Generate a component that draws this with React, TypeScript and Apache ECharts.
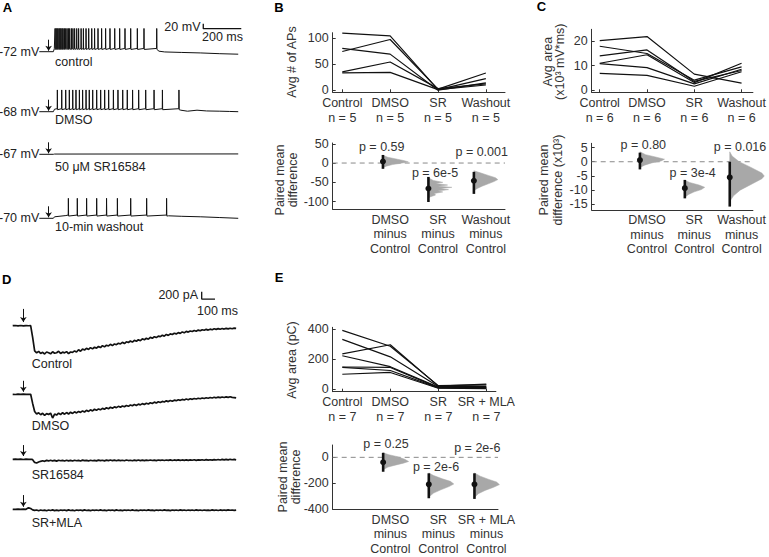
import React, { useEffect, useRef } from "react";
import * as echarts from "echarts";

const FONT = '"Liberation Sans", Arial, Helvetica, sans-serif';
const AXIS = "#333";

// ---------------- Panel A (time ms, membrane potential mV)
const aRestLabels = ["-72 mV", "-68 mV", "-67 mV", "-70 mV"];
const aCondLabels = ["control", "DMSO", "50 μM SR16584", "10-min washout"];
const aControlSpikesMs = [83, 88, 93, 98, 104, 109, 114, 120, 125, 132, 139, 146, 153, 160, 169, 177, 186, 197, 207, 220, 232, 246, 260, 276, 291, 309, 328, 349, 372, 397, 423, 451, 481, 516, 551, 618];
const aDmsoSpikesMs = [95, 118, 139, 158, 176, 193, 211, 228, 246, 263, 281, 302, 323, 344, 365, 390, 414, 439, 463, 491, 523, 560, 604, 648, 735];
const aWashoutSpikesMs = [153, 200, 249, 302, 354, 411, 481, 565, 670];
// [plateau, peak, after-hyperpolarisation] in mV
const aControlLevels = [-59, 21, -63];
const aDmsoLevels = [-56, 19, -60];
const aWashoutLevels = [-57, 10, -61];
const aControlPre = [[0, -72], [74, -72], [79, -60]];
const aControlTail = [[630, -70], [660, -73], [750, -75], [850, -77], [950, -80], [1047, -82]];
const aDmsoPre = [[0, -68], [74, -68], [80, -58]];
const aDmsoTail = [[745, -62], [780, -66], [830, -62], [880, -65], [950, -66], [1000, -67], [1047, -68]];
const aSrTrace = [[0, -67], [74, -67], [80, -66], [1047, -65.5]];
const aWashoutPre = [[0, -70], [74, -70], [80, -64], [140, -59]];
const aWashoutTail = [[680, -60], [750, -62], [850, -64], [950, -67], [1047, -70]];
const aRest = [-72, -68, -67, -70];
const aScaleBar = [[863, 40], [863, 20], [1063, 20]]; // 20 mV, 200 ms

// ---------------- Panel D (time ms, current pA)
const dLabels = ["Control", "DMSO", "SR16584", "SR+MLA"];
const dControl = [[0,0],[20,6],[40,-4],[60,5],[80,-6],[100,3],[120,-2],[135,0],[150,-320],[165,-690],[180,-745],[195,-705],[210,-760],[225,-730],[240,-775],[255,-720],[270,-740],[285,-770],[300,-715],[315,-755],[330,-740],[345,-700],[360,-760],[375,-725],[390,-745],[405,-710],[420,-765],[435,-720],[450,-730],[465,-690],[480,-720],[495,-660],[510,-700],[525,-640],[540,-665],[555,-620],[570,-650],[585,-600],[600,-635],[615,-590],[630,-615],[645,-570],[660,-600],[675,-545],[690,-580],[705,-535],[720,-555],[735,-510],[750,-545],[765,-500],[780,-520],[795,-480],[810,-500],[825,-455],[840,-490],[855,-440],[870,-460],[885,-420],[900,-450],[915,-400],[930,-425],[945,-385],[960,-410],[975,-360],[990,-385],[1005,-345],[1020,-370],[1035,-320],[1050,-345],[1065,-300],[1080,-325],[1095,-285],[1110,-300],[1125,-260],[1140,-285],[1155,-240],[1170,-265],[1185,-225],[1200,-240],[1215,-205],[1230,-225],[1245,-190],[1260,-210],[1275,-170],[1290,-195],[1305,-155],[1320,-175],[1335,-145],[1350,-160],[1365,-130],[1380,-150],[1395,-120],[1410,-140],[1425,-110],[1440,-125],[1455,-100],[1470,-120],[1485,-95],[1500,-110],[1515,-85],[1530,-100],[1545,-80],[1560,-98],[1575,-78],[1590,-92],[1605,-72],[1620,-88],[1635,-70],[1650,-85],[1665,-68],[1680,-75]];
const dDmso = [[0,0],[20,-5],[40,4],[60,-3],[80,5],[100,-4],[120,2],[135,0],[150,-250],[165,-470],[180,-540],[195,-505],[210,-560],[225,-520],[240,-575],[255,-530],[270,-555],[285,-515],[300,-650],[315,-540],[330,-570],[345,-515],[360,-555],[375,-505],[390,-545],[405,-500],[420,-540],[435,-490],[450,-525],[465,-480],[480,-510],[495,-470],[510,-495],[525,-455],[540,-485],[555,-440],[570,-470],[585,-425],[600,-455],[615,-410],[630,-440],[645,-400],[660,-425],[675,-385],[690,-410],[705,-370],[720,-395],[735,-355],[750,-380],[765,-345],[780,-365],[795,-330],[810,-355],[825,-320],[840,-340],[855,-305],[870,-330],[885,-295],[900,-315],[915,-280],[930,-305],[945,-270],[960,-290],[975,-255],[990,-280],[1005,-245],[1020,-265],[1035,-230],[1050,-250],[1065,-215],[1080,-240],[1095,-205],[1110,-225],[1125,-195],[1140,-210],[1155,-180],[1170,-200],[1185,-170],[1200,-190],[1215,-160],[1230,-175],[1245,-150],[1260,-165],[1275,-140],[1290,-155],[1305,-130],[1320,-148],[1335,-122],[1350,-138],[1365,-115],[1380,-130],[1395,-108],[1410,-122],[1425,-100],[1440,-115],[1455,-95],[1470,-108],[1485,-88],[1500,-102],[1515,-82],[1530,-96],[1545,-78],[1560,-92],[1575,-74],[1590,-88],[1605,-70],[1620,-84],[1635,-68],[1650,-85],[1665,-90],[1680,-100]];
const dSr = [[0,0],[20,5],[40,-4],[60,4],[80,-5],[100,3],[120,-3],[140,2],[150,-10],[165,-85],[180,-100],[195,-75],[210,-55],[225,-40],[240,-55],[255,-30],[270,-45],[285,-25],[300,-45],[315,-30],[330,-50],[345,-25],[360,-40],[375,-28],[390,-45],[405,-25],[420,-42],[435,-30],[450,-48],[465,-25],[480,-40],[495,-28],[510,-45],[525,-22],[540,-38],[555,-30],[570,-45],[585,-25],[600,-40],[615,-28],[630,-44],[645,-22],[660,-38],[675,-26],[690,-42],[705,-24],[720,-36],[735,-20],[750,-38],[765,-24],[780,-40],[795,-22],[810,-35],[825,-25],[840,-40],[855,-20],[870,-34],[885,-26],[900,-40],[915,-22],[930,-35],[945,-20],[960,-36],[975,-24],[990,-38],[1005,-22],[1020,-34],[1035,-18],[1050,-32],[1065,-22],[1080,-36],[1095,-20],[1110,-30],[1125,-18],[1140,-34],[1155,-20],[1170,-30],[1185,-16],[1200,-32],[1215,-18],[1230,-28],[1245,-14],[1260,-30],[1275,-18],[1290,-28],[1305,-15],[1320,-30],[1335,-16],[1350,-26],[1365,-12],[1380,-28],[1395,-14],[1410,-24],[1425,-12],[1440,-26],[1455,-10],[1470,-22],[1485,-12],[1500,-24],[1515,-8],[1530,-20],[1545,-6],[1560,-18],[1575,-4],[1590,-16],[1605,-2],[1620,-14],[1635,0],[1650,-12],[1665,-4],[1680,-14]];
const dSrMla = [[0,0],[20,-4],[40,5],[60,-3],[80,4],[100,0],[110,25],[120,40],[135,20],[150,-15],[165,-30],[180,-20],[195,-38],[210,-18],[225,-34],[240,-22],[255,-40],[270,-20],[285,-32],[300,-16],[315,-36],[330,-22],[345,-38],[360,-18],[375,-30],[390,-20],[405,-36],[420,-16],[435,-32],[450,-24],[465,-40],[480,-18],[495,-30],[510,-20],[525,-36],[540,-16],[555,-32],[570,-22],[585,-38],[600,-18],[615,-30],[630,-20],[645,-34],[660,-16],[675,-32],[690,-24],[705,-38],[720,-18],[735,-30],[750,-20],[765,-36],[780,-16],[795,-32],[810,-22],[825,-36],[840,-18],[855,-30],[870,-20],[885,-34],[900,-16],[915,-32],[930,-22],[945,-38],[960,-18],[975,-30],[990,-20],[1005,-34],[1020,-16],[1035,-30],[1050,-22],[1065,-36],[1080,-18],[1095,-30],[1110,-20],[1125,-34],[1140,-16],[1155,-30],[1170,-22],[1185,-36],[1200,-18],[1215,-30],[1230,-20],[1245,-34],[1260,-16],[1275,-28],[1290,-20],[1305,-34],[1320,-18],[1335,-30],[1350,-20],[1365,-32],[1380,-16],[1395,-28],[1410,-20],[1425,-34],[1440,-18],[1455,-30],[1470,-22],[1485,-34],[1500,-16],[1515,-28],[1530,-20],[1545,-32],[1560,-18],[1575,-28],[1590,-20],[1605,-30],[1620,-16],[1635,-26],[1650,-20],[1665,-30],[1680,-24]];
const dScaleBar = [[1421, 930], [1421, 730], [1521, 730]]; // 200 pA, 100 ms

// ---------------- Panel B
const bCats = ["Control", "DMSO", "SR", "Washout"];
const bN = ["n = 5", "n = 5", "n = 5", "n = 5"];
const bSubjects = [
  [109, 104, 1, 22],
  [74, 97, 2, 33],
  [80, 69, 0, 14],
  [35, 54, 3, 12],
  [33, 34, 1, 10],
];
const bDiffCats = ["DMSO", "SR", "Washout"];
const bDiffMean = [4, -66, -46];
const bDiffLow = [-15, -101, -80];
const bDiffHigh = [21, -36, -23];
const bP = ["p = 0.59", "p = 6e-5", "p = 0.001"];
const bDist = [
  [[20, 0], [15, 0.1], [10, 0.3], [6, 0.45], [3, 0.53], [0, 0.4], [-4, 0.2], [-8, 0.07], [-12, 0]],
  [[-38, 0], [-45, 0.1], [-50, 0.3], [-53, 0.15], [-57, 0.4], [-60, 0.2], [-63, 0.49], [-66, 0.25], [-69, 0.42], [-72, 0.2], [-75, 0.3], [-79, 0.12], [-83, 0.15], [-88, 0.03], [-92, 0]],
  [[-20, 0], [-26, 0.15], [-32, 0.3], [-38, 0.45], [-43, 0.5], [-48, 0.42], [-54, 0.3], [-60, 0.17], [-66, 0.07], [-72, 0]],
];

// ---------------- Panel C (x10^3 mV*ms)
const cN = ["n = 6", "n = 6", "n = 6", "n = 6"];
const cSubjects = [
  [20.3, 22, 6.5, 2.8],
  [18, 15, 4, 9.5],
  [14, 16.5, 3.5, 8],
  [11, 14.5, 3, 11],
  [10.8, 9.2, 2.5, 8.5],
  [6.8, 6, 1.5, 7.5],
];
const cDiffMean = [0.6, -9.3, -5.5];
const cDiffLow = [-2.7, -12.9, -15.8];
const cDiffHigh = [3.2, -6.4, 0];
const cP = ["p = 0.80", "p = 3e-4", "p = 0.016"];
const cDist = [
  [[3.5, 0], [2.5, 0.12], [1.6, 0.35], [0.9, 0.52], [0.3, 0.45], [-0.4, 0.25], [-1.2, 0.1], [-2, 0]],
  [[-6.5, 0], [-7.3, 0.1], [-8.2, 0.3], [-9, 0.42], [-9.8, 0.35], [-10.6, 0.2], [-11.5, 0.08], [-12.5, 0]],
  [[3.5, 0], [2, 0.05], [0, 0.2], [-2, 0.45], [-4, 0.68], [-5, 0.73], [-6, 0.68], [-8, 0.45], [-10, 0.22], [-12, 0.08], [-14, 0]],
];

// ---------------- Panel E (pC)
const eCats = ["Control", "DMSO", "SR", "SR + MLA"];
const eN = ["n = 7", "n = 7", "n = 7", "n = 7"];
const eSubjects = [
  [390, 285, 25, 30],
  [330, 215, 20, 20],
  [235, 295, 22, 35],
  [222, 150, 15, 15],
  [148, 145, 12, 12],
  [145, 125, 10, 10],
  [100, 112, 8, 5],
];
const eDiffCats = ["DMSO", "SR", "SR + MLA"];
const eDiffMean = [-38, -208, -208];
const eDiffLow = [-111, -315, -320];
const eDiffHigh = [35, -123, -123];
const eP = ["p = 0.25", "p = 2e-6", "p = 2e-6"];
const eDist = [
  [[35, 0], [20, 0.12], [5, 0.3], [-15, 0.45], [-32, 0.53], [-45, 0.42], [-60, 0.25], [-75, 0.1], [-95, 0]],
  [[-120, 0], [-140, 0.1], [-165, 0.28], [-185, 0.45], [-205, 0.52], [-225, 0.42], [-250, 0.25], [-275, 0.1], [-305, 0]],
  [[-120, 0], [-145, 0.12], [-170, 0.3], [-190, 0.46], [-210, 0.52], [-230, 0.4], [-255, 0.22], [-280, 0.08], [-310, 0]],
];

const catPos = [1, 2, 3, 4];
const diffPos = [1.85, 2.8, 3.75];
const diffLabelPos = [2, 3, 4];

function buildSpikeTrace(pre: number[][], levels: number[], spikes: number[], tail: number[][]) {
  const pts: number[][] = pre.map((p) => p.slice());
  const [plateau, peak, ahp] = levels;
  spikes.forEach((t) => {
    pts.push([t - 0.8, plateau], [t, peak], [t + 1.2, ahp]);
  });
  return pts.concat(tail);
}

function buildOption() {
  const grids: any[] = [];
  const xAxes: any[] = [];
  const yAxes: any[] = [];
  const series: any[] = [];
  const graphics: any[] = [];

  const hiddenGrid = (left: number, top: number, width: number, height: number, xr: number[], yr: number[]) => {
    const i = grids.length;
    grids.push({ left, top, width, height });
    xAxes.push({ type: "value", gridIndex: i, min: xr[0], max: xr[1], show: false });
    yAxes.push({ type: "value", gridIndex: i, min: yr[0], max: yr[1], show: false });
    return i;
  };

  const xLabelAxis = (i: number, xr: number[], xVals: number[], xTexts: string[], xTicks: boolean, lh: number, showLine: boolean) => ({
    type: "value", gridIndex: i, min: xr[0], max: xr[1], position: "bottom", offset: 0,
    axisLine: { show: showLine, onZero: false, lineStyle: { color: AXIS, width: 1 } },
    axisTick: { show: xTicks, inside: true, length: 3, customValues: xVals, lineStyle: { color: AXIS } },
    axisLabel: {
      show: true, customValues: xVals, hideOverlap: false,
      formatter: (v: number) => {
        const k = xVals.findIndex((c) => Math.abs(c - v) < 1e-6);
        return k >= 0 ? xTexts[k] : "";
      },
      color: AXIS, fontSize: 12.5, fontFamily: FONT, margin: 3, lineHeight: lh,
    },
    splitLine: { show: false },
  });

  const statGrid = (left: number, top: number, width: number, height: number, xr: number[], yr: number[], yTicks: number[], xVals: number[], xTexts: string[], xTicks: boolean, lh: number) => {
    const i = grids.length;
    grids.push({ left, top, width, height });
    xAxes.push(xLabelAxis(i, xr, xVals, xTexts, xTicks, lh, true));
    yAxes.push({
      type: "value", gridIndex: i, min: yr[0], max: yr[1],
      axisLine: { show: true, onZero: false, lineStyle: { color: AXIS, width: 1 } },
      axisTick: { show: true, inside: true, length: 3, customValues: yTicks, lineStyle: { color: AXIS } },
      axisLabel: { show: true, customValues: yTicks, hideOverlap: false, color: AXIS, fontSize: 12.5, fontFamily: FONT, margin: 4 },
      splitLine: { show: false },
    });
    return i;
  };

  const traceSeries = (gi: number, data: number[][], width: number, arrow: number[]) => ({
    type: "line", xAxisIndex: gi, yAxisIndex: gi, data, symbol: "none", silent: true, clip: false,
    lineStyle: { color: "#111", width },
    markLine: {
      silent: true, symbol: ["none", "arrow"], symbolSize: 5, animation: false,
      label: { show: false },
      lineStyle: { color: "#111", width: 1, type: "solid" },
      data: [[{ coord: [arrow[0], arrow[1]] }, { coord: [arrow[0], arrow[2]] }]],
    },
  });

  const barSeries = (gi: number, data: number[][]) => ({
    type: "line", xAxisIndex: gi, yAxisIndex: gi, data, symbol: "none", silent: true, clip: false,
    lineStyle: { color: "#111", width: 1.3 },
  });

  // ----- Panel A grids
  const aTops = [22.45, 83.45, 126.3, 189.55];
  const aGrids = aTops.map((t) => hiddenGrid(39.3, t, 205.2, 36.25, [0, 1080], [-100, 45]));
  const aTraces = [
    buildSpikeTrace(aControlPre, aControlLevels, aControlSpikesMs, aControlTail),
    buildSpikeTrace(aDmsoPre, aDmsoLevels, aDmsoSpikesMs, aDmsoTail),
    aSrTrace,
    buildSpikeTrace(aWashoutPre, aWashoutLevels, aWashoutSpikesMs, aWashoutTail),
  ];
  aTraces.forEach((tr, k) => {
    series.push(traceSeries(aGrids[k], tr, 1, [49, aRest[k] + 48, aRest[k] + 4]));
  });
  series.push(barSeries(aGrids[0], aScaleBar));

  // ----- Panel D grids
  const dG1 = hiddenGrid(12.7, 289.2, 226.1, 73, [0, 1700], [-1000, 1000]);
  const dTops = [376.05, 441.05, 491.05];
  const dGs = [dG1].concat(dTops.map((t) => hiddenGrid(12.7, t, 226.1, 54.75, [0, 1700], [-1000, 500])));
  const dTraces = [dControl, dDmso, dSr, dSrMla];
  const dArrowTop = [460, 370, 390, 390];
  const dArrowBot = [100, 70, 90, 70];
  dTraces.forEach((tr, k) => {
    series.push(traceSeries(dGs[k], tr, 1.7, [80, dArrowTop[k], dArrowBot[k]]));
  });
  series.push(barSeries(dG1, dScaleBar));

  // ----- statistic panels
  const topLabels = (cats: string[], ns: string[]) => cats.map((c, i) => c + "\n" + ns[i]);
  const diffLabels = (cats: string[]) => cats.map((c) => c + "\nminus\nControl");

  const subjectLines = (gi: number, subjects: number[][]) => {
    subjects.forEach((s) => {
      series.push({
        type: "line", xAxisIndex: gi, yAxisIndex: gi, silent: true, symbol: "none",
        data: s.map((v, i) => [catPos[i], v]),
        lineStyle: { color: "#111", width: 1.2 },
      });
    });
  };

  const diffSeries = (gi: number, xr: number[], means: number[], lows: number[], highs: number[], dists: number[][][]) => {
    series.push({
      type: "line", xAxisIndex: gi, yAxisIndex: gi, silent: true, symbol: "none", z: 1,
      data: [[xr[0], 0], [xr[1], 0]],
      lineStyle: { color: "#8a8a8a", width: 1, type: [5, 4] },
    });
    series.push({
      type: "custom", xAxisIndex: gi, yAxisIndex: gi, silent: true, clip: false, z: 2,
      data: diffPos.map((p, i) => [p, means[i]]),
      renderItem: (params: any, api: any) => {
        const i = params.dataIndex;
        const x = diffPos[i];
        const d = dists[i];
        const pts: number[][] = [api.coord([x, d[0][0]])];
        d.forEach(([v, w]) => pts.push(api.coord([x + w, v])));
        pts.push(api.coord([x, d[d.length - 1][0]]));
        return { type: "polygon", shape: { points: pts }, style: { fill: "#a8a8a8", stroke: "#a8a8a8", lineWidth: 0.5 } };
      },
    });
    series.push({
      type: "custom", xAxisIndex: gi, yAxisIndex: gi, silent: true, clip: false, z: 3,
      data: diffPos.map((p, i) => [p, means[i], lows[i], highs[i]]),
      renderItem: (params: any, api: any) => {
        const x = api.value(0), m = api.value(1), lo = api.value(2), hi = api.value(3);
        const a = api.coord([x, lo]);
        const b = api.coord([x, hi]);
        const c = api.coord([x, m]);
        return {
          type: "group",
          children: [
            { type: "line", shape: { x1: a[0], y1: a[1], x2: b[0], y2: b[1] }, style: { stroke: "#111", lineWidth: 2.6 } },
            { type: "circle", shape: { cx: c[0], cy: c[1], r: 3 }, style: { fill: "#111" } },
          ],
        };
      },
    });
  };

  // B
  const bTop = statGrid(332.7, 32.7, 172.3, 59.6, [0.8, 4.4], [-4, 110], [0, 50, 100], catPos, topLabels(bCats, bN), true, 15);
  subjectLines(bTop, bSubjects);
  const bBot = statGrid(332.7, 143, 172.3, 66.3, [0.8, 4.4], [-120, 52], [-100, -50, 0, 50], diffLabelPos, diffLabels(bDiffCats), false, 14.5);
  diffSeries(bBot, [0.8, 4.4], bDiffMean, bDiffLow, bDiffHigh, bDist);

  // C
  const cTop = statGrid(591.7, 29.3, 163.3, 63, [0.83, 4.24], [-1, 25], [0, 10, 20], catPos, topLabels(bCats, cN), true, 15);
  subjectLines(cTop, cSubjects);
  const cBot = statGrid(591.7, 143.3, 163.3, 66.7, [0.83, 4.24], [-17, 6.5], [-15, -10, -5, 0, 5], diffLabelPos, diffLabels(bDiffCats), false, 14.5);
  diffSeries(cBot, [0.83, 4.24], cDiffMean, cDiffLow, cDiffHigh, cDist);

  // E
  const eTop = statGrid(332.7, 327.3, 163.2, 64.4, [0.8, 4.2], [-15, 410], [0, 200, 400], catPos, topLabels(eCats, eN), true, 15);
  subjectLines(eTop, eSubjects);
  const eDiffLabels = diffLabels(eDiffCats);
  const eBot = statGrid(332.7, 445, 165.3, 64.3, [0.8, 4.24], [-400, 95], [-400, -200, 0], diffLabelPos.slice(0, 2), eDiffLabels.slice(0, 2), false, 14.5);
  diffSeries(eBot, [0.8, 4.24], eDiffMean, eDiffLow, eDiffHigh, eDist);
  // the last label of E sits on its own label-only bottom axis so that it is never culled as overlapping
  xAxes.push(xLabelAxis(eBot, [0.8, 4.24], diffLabelPos.slice(2), eDiffLabels.slice(2), false, 14.5, false));

  // ----- texts
  const txt = (text: string, x: number, y: number, o: any = {}) => ({
    type: "text", x, y, rotation: o.rot || 0, silent: true, z: 10,
    style: {
      text, fill: o.color || "#222", fontSize: o.size || 12.5, fontFamily: FONT,
      fontWeight: o.bold ? "bold" : "normal",
      align: o.align || "center", verticalAlign: "middle",
      textAlign: o.align || "center", textVerticalAlign: "middle",
    },
  });
  const R = Math.PI / 2;

  graphics.push(txt("A", 7.5, 7.5, { bold: true, size: 13, color: "#000" }));
  graphics.push(txt("B", 279, 7.5, { bold: true, size: 13, color: "#000" }));
  graphics.push(txt("C", 541.5, 6.7, { bold: true, size: 13, color: "#000" }));
  graphics.push(txt("D", 6.7, 279, { bold: true, size: 13, color: "#000" }));
  graphics.push(txt("E", 279, 277.3, { bold: true, size: 13, color: "#000" }));

  const aRestY = [51.7, 111.7, 154.3, 218.3];
  const aCondY = [61.7, 120, 166.7, 227.3];
  aRestLabels.forEach((t, k) => graphics.push(txt(t, 39.3, aRestY[k], { align: "right" })));
  aCondLabels.forEach((t, k) => graphics.push(txt(t, 55, aCondY[k], { align: "left" })));
  graphics.push(txt("20 mV", 200.5, 27, { align: "right" }));
  graphics.push(txt("200 ms", 222.5, 37));

  const dLabelY = [364.3, 426, 475, 523.3];
  dLabels.forEach((t, k) => graphics.push(txt(t, 31.7, dLabelY[k], { align: "left" })));
  graphics.push(txt("200 pA", 198, 295.3, { align: "right" }));
  graphics.push(txt("100 ms", 217.5, 310.8));

  // y-axis titles
  graphics.push(txt("Avg # of APs", 292, 62, { rot: R, color: AXIS }));
  graphics.push(txt("Paired mean", 280, 180, { rot: R, color: AXIS }));
  graphics.push(txt("difference", 292.5, 180, { rot: R, color: AXIS }));
  graphics.push(txt("Avg area", 548.3, 61.7, { rot: R, color: AXIS }));
  graphics.push(txt("(x10³ mV*ms)", 560, 61.7, { rot: R, color: AXIS }));
  graphics.push(txt("Paired mean", 543.5, 180, { rot: R, color: AXIS }));
  graphics.push(txt("difference (x10³)", 557.5, 180, { rot: R, color: AXIS }));
  graphics.push(txt("Avg area (pC)", 291.7, 360, { rot: R, color: AXIS }));
  graphics.push(txt("Paired mean", 283.3, 477, { rot: R, color: AXIS }));
  graphics.push(txt("difference", 295.5, 477, { rot: R, color: AXIS }));

  // p-values
  const bPxy = [[381.7, 146.7], [435, 173], [481.7, 151.7]];
  const cPxy = [[643.3, 145], [692.7, 173.3], [740, 147.3]];
  const ePxy = [[386, 444], [436, 466.7], [477.3, 448.3]];
  bP.forEach((t, k) => graphics.push(txt(t, bPxy[k][0], bPxy[k][1], { color: AXIS })));
  cP.forEach((t, k) => graphics.push(txt(t, cPxy[k][0], cPxy[k][1], { color: AXIS })));
  eP.forEach((t, k) => graphics.push(txt(t, ePxy[k][0], ePxy[k][1], { color: AXIS })));

  return {
    animation: false,
    backgroundColor: "#fff",
    grid: grids,
    xAxis: xAxes,
    yAxis: yAxes,
    series,
    graphic: graphics,
  };
}

export default function App() {
  const ref = useRef<HTMLDivElement>(null);
  useEffect(() => {
    if (!ref.current) return;
    const chart = echarts.init(ref.current, undefined, { renderer: "svg" });
    chart.setOption(buildOption() as any);
    return () => chart.dispose();
  }, []);
  return (
    <div
      ref={ref}
      style={{ position: "absolute", left: 0, top: 0, width: 769, height: 557, background: "#fff" }}
    />
  );
}
